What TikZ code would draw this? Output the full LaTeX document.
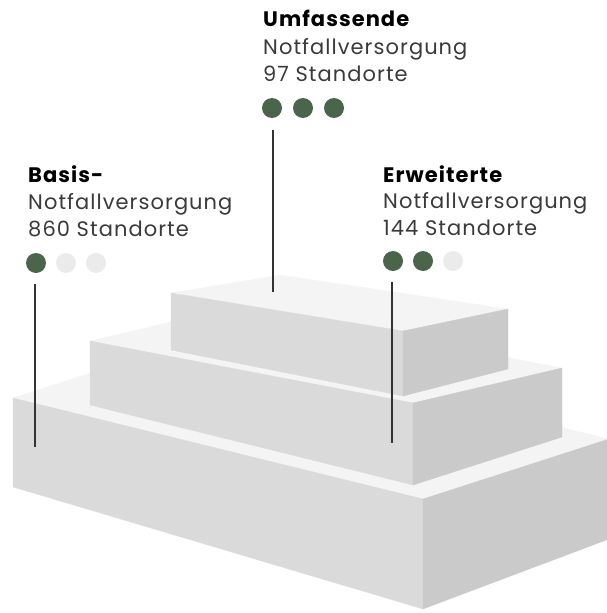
\documentclass[tikz,border=0pt]{standalone}
\usepackage{fontspec}
\setmainfont{Poppins}[LetterSpace=5]
\definecolor{topface}{HTML}{F4F4F4}
\definecolor{frontface}{HTML}{DADADA}
\definecolor{rightface}{HTML}{CACACA}
\definecolor{dotgreen}{HTML}{4B654A}
\definecolor{dotgrey}{HTML}{EBEBEB}
\definecolor{txtgrey}{HTML}{3A3A3A}
\definecolor{leader}{HTML}{333333}
\tikzset{
  topf/.style={fill=topface, draw=topface, line width=0.3pt},
  frontf/.style={fill=frontface, draw=frontface, line width=0.3pt},
  rightf/.style={fill=rightface, draw=rightface, line width=0.3pt},
  headline/.style={anchor=base west, inner sep=0pt, text=black, font=\fontsize{21}{27}\selectfont\bfseries},
  bodyline/.style={anchor=base west, inner sep=0pt, text=txtgrey, font=\fontsize{21}{27}\selectfont},
  dotg/.style={circle, fill=dotgreen, minimum size=20pt, inner sep=0pt},
  dotl/.style={circle, fill=dotgrey, minimum size=20pt, inner sep=0pt},
  leaderline/.style={draw=leader, line width=2pt},
}
\begin{document}
\begin{tikzpicture}[x=1pt, y=-1pt]
\useasboundingbox (0,0) rectangle (607,613);
\clip (0,0) rectangle (607,613);
% base tier
\fill[topf] (13,398) -- (199,338) -- (609,439) -- (423,499) -- cycle;
\fill[frontf] (13,398) -- (423,499) -- (423,609) -- (13,487) -- cycle;
\fill[rightf] (423,499) -- (609,439) -- (609,539) -- (423,609) -- cycle;
% middle tier
\fill[topf] (90,341) -- (239,306) -- (562,368) -- (413,403) -- cycle;
\fill[frontf] (90,341) -- (413,403) -- (413,485) -- (90,405) -- cycle;
\fill[rightf] (413,403) -- (562,368) -- (562,437) -- (413,485) -- cycle;
% top tier
\fill[topf] (171,293) -- (280,275) -- (508,309) -- (403,331) -- cycle;
\fill[frontf] (171,293) -- (403,331) -- (403,396) -- (171,350) -- cycle;
\fill[rightf] (403,331) -- (508,309) -- (508,369) -- (403,396) -- cycle;

% Umfassende
\node[headline] (u1) at (263,27) {Umfassende};
\node[bodyline] (u2) at (263,54) {Notfallversorgung};
\node[bodyline] (u3) at (263,81) {97 Standorte};
\node[dotg] (ud1) at (272,108) {};
\node[dotg] (ud2) at (303,108) {};
\node[dotg] (ud3) at (334,108) {};
\coordinate (ua) at (273,130);
\coordinate (ub) at (273,292);
\draw[leaderline] (ua) -- (ub);

% Basis
\node[headline] (b1) at (28,182) {Basis-};
\node[bodyline] (b2) at (28,209) {Notfallversorgung};
\node[bodyline] (b3) at (28,236) {860 Standorte};
\node[dotg] (bd1) at (36,263) {};
\node[dotl] (bd2) at (66,263) {};
\node[dotl] (bd3) at (96,263) {};
\coordinate (ba) at (35,284);
\coordinate (bb) at (35,447);
\draw[leaderline] (ba) -- (bb);

% Erweiterte
\node[headline] (e1) at (383,182) {Erweiterte};
\node[bodyline] (e2) at (383,208) {Notfallversorgung};
\node[bodyline] (e3) at (383,235) {144 Standorte};
\node[dotg] (ed1) at (393,261) {};
\node[dotg] (ed2) at (423,261) {};
\node[dotl] (ed3) at (453,261) {};
\coordinate (ea) at (392,282);
\coordinate (eb) at (392,443);
\draw[leaderline] (ea) -- (eb);
\end{tikzpicture}
\end{document}
